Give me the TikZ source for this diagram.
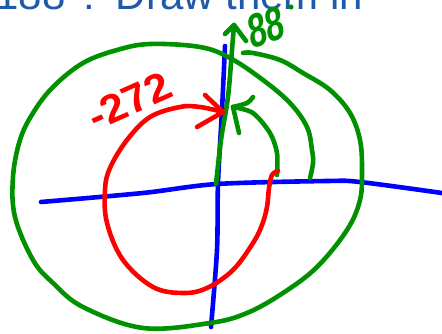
\documentclass[tikz,border=0pt]{standalone}
\usepackage{fontspec}
\setmainfont{Liberation Sans}
\definecolor{titleblue}{RGB}{30,90,168}
\definecolor{inkgreen}{RGB}{0,145,0}
\definecolor{inkred}{RGB}{255,0,0}
\definecolor{inkblue}{RGB}{0,0,255}
\begin{document}
\begin{tikzpicture}[x=1pt,y=-1pt,
  ink/.style={line width=4.6pt,line cap=round,line join=round},
  axis/.style={ink,draw=inkblue},
  gink/.style={ink,draw=inkgreen},
  rink/.style={ink,draw=inkred},
  hand/.style={inner sep=0pt}]
\useasboundingbox[fill=white] (0,0) rectangle (442,334);
% title (cut off at top)
\node[anchor=base west,inner sep=0pt,text=titleblue,font=\fontsize{42}{42}\selectfont] (title) at (-4.8,9.2) {188\hspace{6.5pt} :\hspace{5pt} Draw them in};
% axes
\draw[axis] plot[smooth] coordinates {(41,202) (143,193) (217,184) (327,181) (360,182) (442,193)};
\draw[axis] plot[smooth] coordinates {(225,46) (222,110) (218,183) (217,250) (211,327)};
% big green spiral circle
\draw[gink] plot[smooth,tension=0.6] coordinates {(310,178) (313,163) (312,150) (307,127) (290,103) (263,80) (230,58) (200,47) (150,44) (117,50) (83,63) (53,87) (33,113) (20,140) (13,177) (15,217) (33,260) (53,283) (83,307) (143,328) (210,323) (247,313) (283,293) (317,267) (347,230) (360,200) (362,170) (360,140) (350,113) (330,90) (303,73) (280,60) (253,53) (243,53)};
% green terminal side with arrowhead
\coordinate (gbase) at (216,184);
\coordinate (gtip) at (234,25);
\draw[gink] plot[smooth] coordinates {(216,184) (221,140) (228,97) (232,50) (234,25)};
\draw[gink] (225,34) -- (gtip) -- (246,41);
\node[hand,text=inkgreen,font=\bfseries\fontsize{48}{48}\selectfont,xscale=0.68,rotate=14] (lab88) at (266,27) {88};
\fill[inkgreen] (291,7) circle (2.6pt);
% small green 88 arc with arrowhead
\coordinate (sarc) at (233,107);
\draw[gink] plot[smooth] coordinates {(277,175) (277,153) (270,133) (253,113) (233,107)};
\draw[gink] plot[smooth] coordinates {(253,97) (247,103) (233,107)};
\draw[gink] (sarc) -- (239,133);
% red -272 arc with arrowhead
\coordinate (rtip) at (223,112);
\draw[rink] plot[smooth,tension=0.6] coordinates {(278,171) (272,175) (269,188) (267,207) (262,225) (253,243) (233,270) (207,288) (183,293) (153,287) (123,260) (107,223) (105,190) (110,168) (127,140) (150,117) (180,107) (200,107) (223,112)};
\draw[rink] (205,95) -- (rtip) -- (197,127);
\node[hand,text=inkred,font=\bfseries\fontsize{40}{40}\selectfont,xscale=1.1,rotate=26] (lab272) at (129,101) {-272};
\end{tikzpicture}
\end{document}
